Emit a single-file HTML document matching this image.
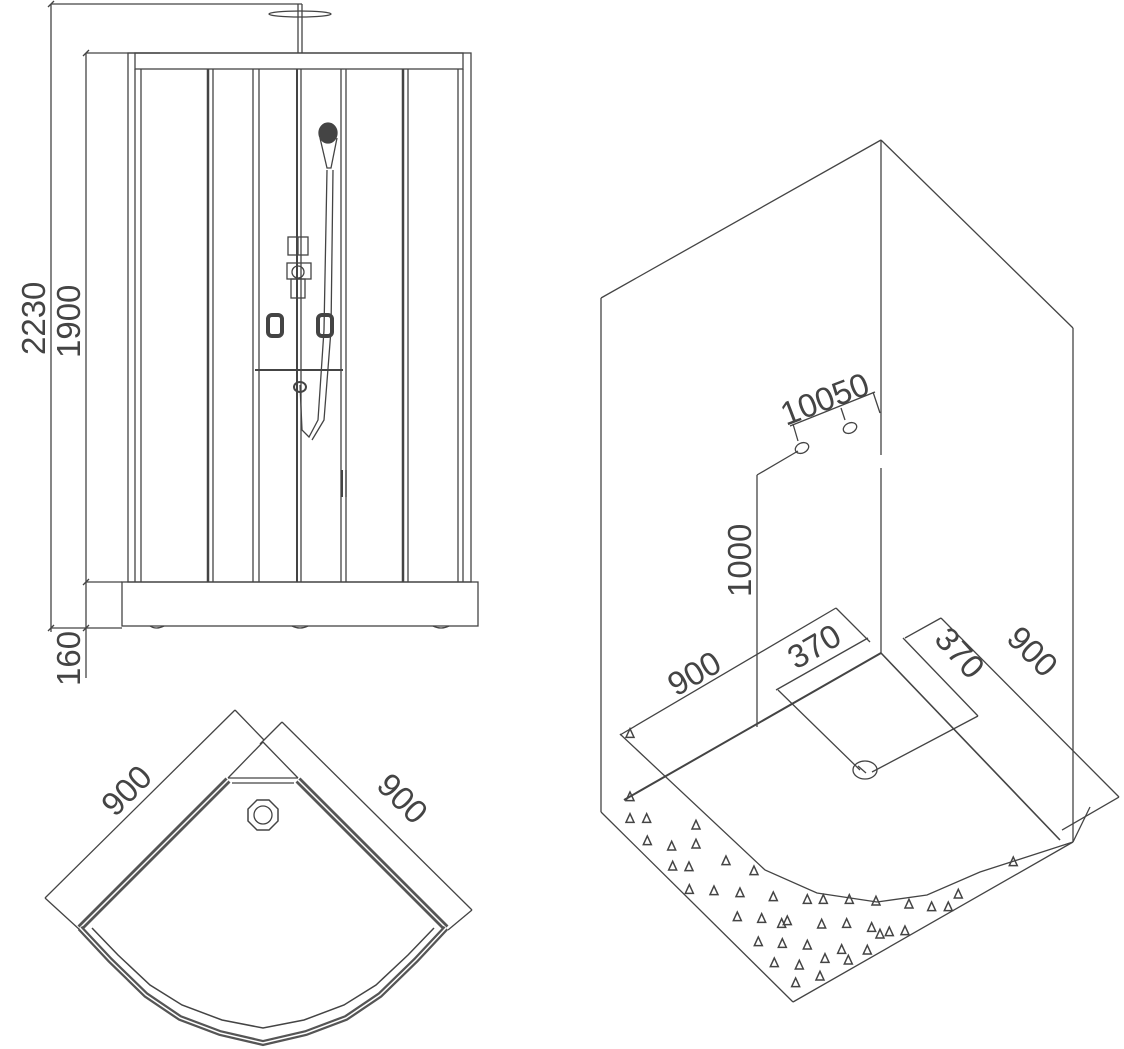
<!DOCTYPE html>
<html><head><meta charset="utf-8"><style>
html,body{margin:0;padding:0;background:#fff;}
svg{display:block;}
text{font-family:"Liberation Sans",sans-serif;fill:#444;font-size:33px;}
</style></head><body>
<svg width="1124" height="1049" viewBox="0 0 1124 1049" xmlns="http://www.w3.org/2000/svg">
<g stroke="#444" fill="none" stroke-width="1.3">
<line x1="51" y1="4" x2="51" y2="632"/>
<line x1="51" y1="4" x2="302" y2="4"/>
<line x1="86" y1="53" x2="86" y2="678"/>
<line x1="86" y1="53" x2="160" y2="53"/>
<line x1="86" y1="582" x2="122" y2="582"/>
<line x1="51" y1="628" x2="122" y2="628"/>
<line x1="48" y1="7" x2="54" y2="1"/><line x1="48" y1="631" x2="54" y2="625"/>
<line x1="83" y1="56" x2="89" y2="50"/><line x1="83" y1="585" x2="89" y2="579"/><line x1="83" y1="631" x2="89" y2="625"/>
<line x1="298" y1="4" x2="298" y2="53"/><line x1="302" y1="4" x2="302" y2="53"/>
<ellipse cx="300" cy="14" rx="31" ry="3"/>
<rect x="128" y="53" width="343" height="529"/>
<rect x="135" y="53" width="328" height="16"/>
<line x1="135" y1="69" x2="135" y2="582"/><line x1="463" y1="69" x2="463" y2="582"/>
<line x1="141" y1="69" x2="141" y2="582"/><line x1="458" y1="69" x2="458" y2="582"/>
<line x1="208" y1="69" x2="208" y2="582" stroke-width="2.5"/><line x1="213" y1="69" x2="213" y2="582"/>
<line x1="253" y1="69" x2="253" y2="582"/><line x1="259" y1="69" x2="259" y2="582"/>
<line x1="297" y1="69" x2="297" y2="582" stroke-width="2"/><line x1="301" y1="69" x2="301" y2="582"/>
<line x1="341" y1="69" x2="341" y2="582"/><line x1="346" y1="69" x2="346" y2="582"/>
<line x1="403" y1="69" x2="403" y2="582" stroke-width="2.5"/><line x1="408" y1="69" x2="408" y2="582"/>
<line x1="342" y1="470" x2="342" y2="497" stroke-width="2"/><line x1="346" y1="470" x2="346" y2="497"/>
<rect x="122" y="582" width="356" height="44"/>
<path d="M150 626 q6 4 14 0 M292 626 q8 4 16 0 M433 626 q8 4 16 0"/>
<ellipse cx="328" cy="133" rx="9" ry="10" fill="#444"/>
<path d="M320 138 L327 168 L331 168 L337 138"/>
<path d="M327 170 L324 330 L318 420 L309 437 L302 430 L300 385 M333 170 L331 330 L324 420 L312 440"/>
<rect x="288" y="237" width="20" height="18"/><line x1="298" y1="237" x2="298" y2="255"/>
<rect x="287" y="263" width="24" height="16"/>
<circle cx="298" cy="272" r="6"/>
<rect x="291" y="279" width="14" height="19"/>
<rect x="268" y="315" width="14" height="21" rx="4" stroke-width="4"/>
<rect x="318" y="315" width="14" height="21" rx="4" stroke-width="4"/>
<line x1="255" y1="370" x2="343" y2="370" stroke-width="2"/>
<ellipse cx="300" cy="387" rx="6" ry="5" stroke-width="2"/>

<line x1="45" y1="898" x2="235" y2="710"/>
<line x1="45" y1="898" x2="80" y2="930"/>
<line x1="235" y1="710" x2="264" y2="740"/>
<line x1="282" y1="722" x2="472" y2="910"/>
<line x1="282" y1="722" x2="260" y2="744"/>
<line x1="472" y1="910" x2="448" y2="930"/>
<line x1="263" y1="742" x2="228" y2="778"/><line x1="263" y1="742" x2="298" y2="778"/>
<path d="M228 778 L298 778 M232 783 L294 783"/>
<path d="M228 780 L80 928" stroke-width="7" stroke="#555"/>
<path d="M228 780 L80 928" stroke-width="1.5" stroke="#fff"/>
<path d="M298 780 L446 928" stroke-width="7" stroke="#555"/>
<path d="M298 780 L446 928" stroke-width="1.5" stroke="#fff"/>
<polyline points="80,928 110,960 146,995 180,1018 220,1033 263,1043 306,1033 346,1018 380,995 416,960 446,928" stroke-width="6" stroke="#555"/>
<polyline points="80,928 110,960 146,995 180,1018 220,1033 263,1043 306,1033 346,1018 380,995 416,960 446,928" stroke-width="1.5" stroke="#fff"/>
<polyline points="92,928 118,955 150,985 182,1005 222,1020 263,1028 304,1020 344,1005 376,985 408,955 434,928" stroke-width="1.5"/>
<polygon points="257,800 269,800 278,809 278,821 269,830 257,830 248,821 248,809" stroke-width="1.5"/>
<circle cx="263" cy="815" r="9"/>

<line x1="601" y1="298" x2="601" y2="812"/>
<line x1="601" y1="298" x2="881" y2="140"/>
<line x1="881" y1="140" x2="1073" y2="328"/>
<line x1="1073" y1="328" x2="1073" y2="842"/>
<line x1="881" y1="140" x2="881" y2="455"/>
<line x1="881" y1="468" x2="881" y2="653"/>
<line x1="624" y1="800" x2="881" y2="653" stroke-width="2"/>
<line x1="881" y1="653" x2="1060" y2="840" stroke-width="1.6"/>
<line x1="601" y1="812" x2="793" y2="1002"/>
<line x1="793" y1="1002" x2="1073" y2="842"/>
<line x1="1073" y1="842" x2="1090" y2="807"/>
<polyline points="620,734 765,870 817,893 877,902 927,895 980,872 1073,842"/>
<line x1="757" y1="475" x2="757" y2="727"/>
<line x1="757" y1="475" x2="798" y2="451"/>
<ellipse cx="802" cy="448" rx="7" ry="5" transform="rotate(-25 802 448)"/>
<ellipse cx="850" cy="428" rx="7" ry="5" transform="rotate(-25 850 428)"/>
<line x1="790" y1="426" x2="875" y2="392"/>
<line x1="793" y1="424" x2="798" y2="441"/>
<line x1="841" y1="408" x2="845" y2="420"/>
<line x1="873" y1="392" x2="880" y2="413"/>
<line x1="620" y1="735" x2="836" y2="608"/>
<line x1="836" y1="608" x2="870" y2="642"/>
<line x1="776" y1="690" x2="868" y2="638"/>
<line x1="778" y1="690" x2="860" y2="770"/>
<line x1="903" y1="638" x2="978" y2="716"/>
<line x1="978" y1="716" x2="872" y2="772"/>
<line x1="941" y1="618" x2="1119" y2="797"/>
<line x1="941" y1="618" x2="905" y2="638"/>
<line x1="1119" y1="797" x2="1062" y2="830"/>
<ellipse cx="865" cy="770" rx="12" ry="9"/>
<line x1="858" y1="766" x2="866" y2="773"/>
</g>
<g transform="translate(590,770) scale(0.3333)" stroke="#444" stroke-width="4.5" fill="none">
<path id="t" d="M0 -14 L-12 12 L12 12 Z" transform="translate(120,80)"/>
<use href="#t" x="0" y="65"/><use href="#t" x="50" y="65"/><use href="#t" x="198" y="85"/>
<use href="#t" x="52" y="132"/><use href="#t" x="125" y="148"/><use href="#t" x="198" y="142"/>
<use href="#t" x="128" y="208"/><use href="#t" x="177" y="210"/><use href="#t" x="288" y="192"/>
<use href="#t" x="372" y="222"/><use href="#t" x="178" y="278"/><use href="#t" x="252" y="282"/>
<use href="#t" x="330" y="288"/><use href="#t" x="430" y="300"/><use href="#t" x="532" y="308"/>
<use href="#t" x="580" y="308"/><use href="#t" x="658" y="308"/><use href="#t" x="738" y="313"/>
<use href="#t" x="837" y="322"/><use href="#t" x="905" y="330"/><use href="#t" x="955" y="330"/>
<use href="#t" x="985" y="292"/><use href="#t" x="1150" y="195"/><use href="#t" x="322" y="360"/>
<use href="#t" x="395" y="365"/><use href="#t" x="455" y="380"/><use href="#t" x="472" y="372"/>
<use href="#t" x="575" y="382"/><use href="#t" x="650" y="380"/><use href="#t" x="725" y="392"/>
<use href="#t" x="750" y="412"/><use href="#t" x="778" y="405"/><use href="#t" x="825" y="402"/>
<use href="#t" x="385" y="435"/><use href="#t" x="457" y="440"/><use href="#t" x="532" y="445"/>
<use href="#t" x="635" y="458"/><use href="#t" x="712" y="460"/><use href="#t" x="433" y="498"/>
<use href="#t" x="508" y="505"/><use href="#t" x="585" y="485"/><use href="#t" x="655" y="490"/>
<use href="#t" x="497" y="558"/><use href="#t" x="570" y="538"/><use href="#t" x="0" y="-190"/>
</g>
<text transform="translate(45,355) rotate(-90)">2230</text>
<text transform="translate(80,358) rotate(-90)">1900</text>
<text transform="translate(80,686) rotate(-90)">160</text>
<text transform="translate(115,818) rotate(-45)">900</text>
<text transform="translate(375,787) rotate(45)">900</text>
<text transform="translate(751,597) rotate(-90)">1000</text>
<text transform="translate(786,426) rotate(-21)">10050</text>
<text transform="translate(676,697) rotate(-30)">900</text>
<text transform="translate(796,670) rotate(-30)">370</text>
<text transform="translate(933,640) rotate(48)">370</text>
<text transform="translate(1005,640) rotate(45)">900</text>
</svg>
</body></html>
